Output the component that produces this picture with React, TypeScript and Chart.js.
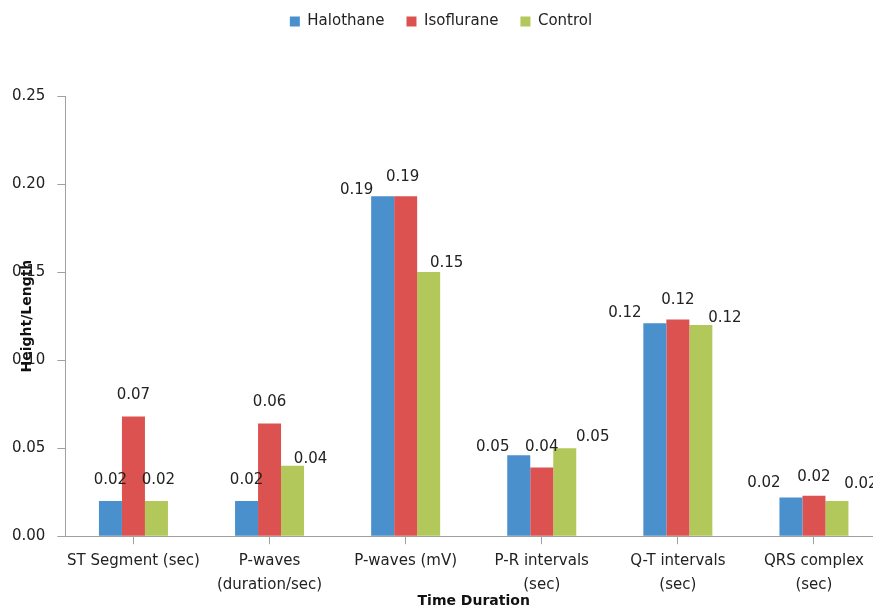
import React, { useEffect, useRef } from "react";
import { Chart, registerables } from "chart.js";

Chart.register(...registerables);

const categories: (string | string[])[] = [
  "ST Segment (sec)",
  ["P-waves", "(duration/sec)"],
  "P-waves (mV)",
  ["P-R intervals", "(sec)"],
  ["Q-T intervals", "(sec)"],
  ["QRS complex", "(sec)"],
];

const seriesNames = ["Halothane", "Isoflurane", "Control"];
const halothane = [0.02, 0.02, 0.193, 0.046, 0.121, 0.022];
const isoflurane = [0.068, 0.064, 0.193, 0.039, 0.123, 0.023];
const control = [0.02, 0.04, 0.15, 0.05, 0.12, 0.02];
const yTicks = [0, 0.05, 0.1, 0.15, 0.2, 0.25];

const colors = ["#4a90cd", "#dc5250", "#b3c85a"];

// label placement nudges (dx, dy from bar top) per series, per category
const labelShift: [number, number][][] = [
  [[0, -21], [0, -21], [-26, -6], [-26, -8], [-30, -10], [-27, -14]],
  [[0, -21], [0, -21], [-3, -19], [0, -20], [0, -20], [0, -19]],
  [[2, -21], [18, -7], [18, -9], [28, -11], [24, -7], [24, -17]],
];

const FONT = "'DejaVu Sans', sans-serif";

export default function App() {
  const ref = useRef<HTMLCanvasElement | null>(null);

  useEffect(() => {
    if (!ref.current) return;

    const legendSpace = {
      id: "legendSpace",
      beforeInit(chart: any) {
        const orig = chart.legend.fit;
        chart.legend.fit = function () {
          orig.bind(chart.legend)();
          this.height += 57;
        };
      },
    };

    const valueLabels = {
      id: "valueLabels",
      afterDatasetsDraw(chart: any) {
        const ctx = chart.ctx;
        ctx.save();
        ctx.font = `15px ${FONT}`;
        ctx.fillStyle = "#222";
        ctx.textAlign = "center";
        ctx.textBaseline = "middle";
        chart.data.datasets.forEach((ds: any, di: number) => {
          const meta = chart.getDatasetMeta(di);
          meta.data.forEach((bar: any, i: number) => {
            const [dx, dy] = labelShift[di][i];
            ctx.fillText(Number(ds.data[i]).toFixed(2), bar.x + dx, bar.y + dy);
          });
        });
        ctx.restore();
      },
    };

    const yTitle = {
      id: "yTitle",
      afterDraw(chart: any) {
        const ctx = chart.ctx;
        const a = chart.chartArea;
        ctx.save();
        ctx.translate(27, (a.top + a.bottom) / 2);
        ctx.rotate(-Math.PI / 2);
        ctx.font = `bold 14px ${FONT}`;
        ctx.fillStyle = "#111";
        ctx.textAlign = "center";
        ctx.textBaseline = "middle";
        ctx.fillText("Height/Length", 0, 0);
        ctx.restore();
      },
    };

    const chart = new Chart(ref.current, {
      type: "bar",
      data: {
        labels: categories,
        datasets: [halothane, isoflurane, control].map((d, i) => ({
          label: seriesNames[i],
          data: d,
          backgroundColor: colors[i],
          borderWidth: 0,
          categoryPercentage: 0.507,
          barPercentage: 1,
        })),
      },
      options: {
        animation: false,
        responsive: false,
        layout: { padding: { left: 0, right: 18, top: -8, bottom: 0 } },
        plugins: {
          legend: {
            position: "top",
            labels: {
              boxWidth: 10,
              boxHeight: 10,
              padding: 22,
              color: "#222",
              font: { family: FONT, size: 15 },
            },
          },
          tooltip: { enabled: false },
        },
        scales: {
          x: {
            offset: true,
            grid: {
              display: true,
              drawOnChartArea: false,
              offset: false,
              tickLength: 8,
              color: "#a0a0a0",
            },
            border: { color: "#a0a0a0", width: 1 },
            ticks: {
              color: "#222",
              padding: 5,
              maxRotation: 0,
              autoSkip: false,
              font: { family: FONT, size: 15, lineHeight: 1.6 },
            },
            title: {
              display: true,
              text: "Time Duration",
              color: "#111",
              font: { family: FONT, size: 14, weight: "bold" },
              padding: { top: -9, bottom: 0 },
            },
          },
          y: {
            min: 0,
            max: 0.25,
            afterBuildTicks(scale: any) {
              scale.ticks = yTicks.map((v) => ({ value: v }));
            },
            grid: {
              display: true,
              drawOnChartArea: false,
              tickLength: 8,
              color: "#a0a0a0",
            },
            border: { color: "#a0a0a0", width: 1 },
            ticks: {
              color: "#222",
              padding: 12,
              font: { family: FONT, size: 15 },
              callback: (v: any) => Number(v).toFixed(2),
            },
          },
        },
      },
      plugins: [legendSpace, valueLabels, yTitle],
    });

    return () => chart.destroy();
  }, []);

  return (
    <div style={{ position: "fixed", left: 0, top: 0, width: 900, height: 610, background: "#fff" }}>
      <canvas ref={ref} width={900} height={610} />
    </div>
  );
}
